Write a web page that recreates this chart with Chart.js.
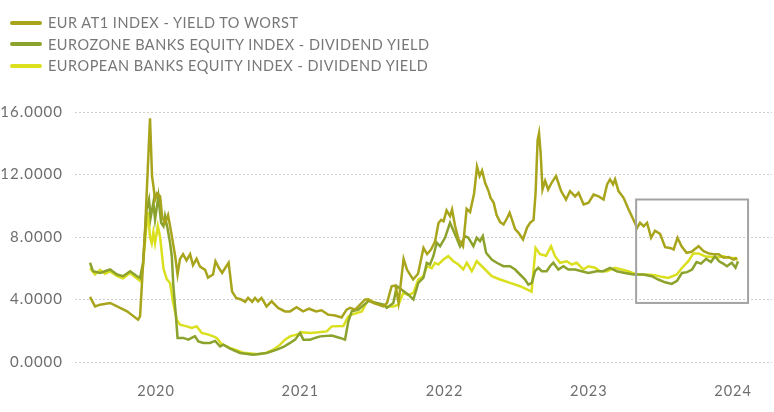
<!DOCTYPE html>
<html lang="en">
<head>
<meta charset="UTF-8">
<script src="https://cdn.jsdelivr.net/npm/chart.js"></script>
<title>Yields</title>
<style>
  body { margin: 0; background: #fff; }
  .wrap { position: relative; width: 774px; height: 412px; }
  canvas { position: absolute; left: 0; top: 0; }
  .legenda { position: absolute; left: 10px; top: 12px; font-family: Lato, sans-serif; font-size: 14.5px; letter-spacing: 0.5px; color: #777; }
  .item { height: 21.6px; display: flex; align-items: center; white-space: nowrap; }
  .swatch { width: 32px; height: 4px; border-radius: 2px; margin-right: 6px; }
</style>
</head>
<body>
<div class="wrap">
  <canvas id="myChart" width="774" height="412"></canvas>
  <div class="legenda" id="legenda"></div>
</div>
<script>
// series names and colours
const seriesNames = [
    'EUR AT1 INDEX - YIELD TO WORST',
    'EUROZONE BANKS EQUITY INDEX - DIVIDEND YIELD',
    'EUROPEAN BANKS EQUITY INDEX - DIVIDEND YIELD'
];
const seriesColors = ['#a8a41c', '#8ba22c', '#dadf1e'];
const yearTicks = [2020, 2021, 2022, 2023, 2024];

// EUR AT1 index - yield to worst
const at1Years = [2019.542, 2019.577, 2019.612, 2019.681, 2019.730, 2019.799, 2019.875, 2019.889, 2019.924, 2019.958,
    2019.972, 2019.981, 2019.993, 2020.007, 2020.028, 2020.042, 2020.062, 2020.083, 2020.097, 2020.114,
    2020.132, 2020.149, 2020.166, 2020.187, 2020.211, 2020.236, 2020.256, 2020.281, 2020.305, 2020.340,
    2020.360, 2020.395, 2020.412, 2020.437, 2020.458, 2020.478, 2020.503, 2020.527, 2020.555, 2020.589,
    2020.617, 2020.638, 2020.666, 2020.686, 2020.707, 2020.731, 2020.766, 2020.801, 2020.846, 2020.894,
    2020.929, 2020.974, 2021.019, 2021.061, 2021.109, 2021.147, 2021.192, 2021.241, 2021.286, 2021.321,
    2021.345, 2021.380, 2021.414, 2021.449, 2021.473, 2021.504, 2021.539, 2021.574, 2021.601, 2021.633,
    2021.660, 2021.681, 2021.716, 2021.740, 2021.782, 2021.816, 2021.854, 2021.879, 2021.906, 2021.934,
    2021.958, 2021.976, 2021.993, 2022.014, 2022.038, 2022.052, 2022.073, 2022.097, 2022.128, 2022.153,
    2022.177, 2022.205, 2022.225, 2022.243, 2022.260, 2022.281, 2022.305, 2022.319, 2022.340, 2022.361,
    2022.385, 2022.409, 2022.433, 2022.451, 2022.468, 2022.489, 2022.513, 2022.544, 2022.572, 2022.593,
    2022.617, 2022.631, 2022.645, 2022.655, 2022.666, 2022.679, 2022.697, 2022.718, 2022.742, 2022.773,
    2022.808, 2022.842, 2022.870, 2022.905, 2022.929, 2022.964, 2022.998, 2023.033, 2023.068, 2023.102,
    2023.127, 2023.147, 2023.168, 2023.182, 2023.206, 2023.241, 2023.276, 2023.303, 2023.335, 2023.355,
    2023.380, 2023.404, 2023.432, 2023.459, 2023.494, 2023.529, 2023.563, 2023.588, 2023.615, 2023.643,
    2023.678, 2023.712, 2023.761, 2023.796, 2023.830, 2023.865, 2023.900, 2023.934, 2023.969, 2024.003,
    2024.028];
const at1Yield = [4.17, 3.56, 3.67, 3.78, 3.56, 3.24, 2.71, 2.92, 8.5, 15.6,
    11.9, 11.3, 10.4, 10.8, 10.6, 9.3, 8.9, 9.4, 8.7, 7.8,
    6.8, 5.6, 6.6, 6.9, 6.5, 6.9, 6.2, 6.6, 6.1, 5.9,
    5.4, 5.6, 6.45, 6.0, 5.7, 6.0, 6.35, 4.5, 4.1, 4.0,
    3.85, 4.1, 3.85, 4.1, 3.88, 4.1, 3.56, 3.88, 3.46, 3.24,
    3.24, 3.5, 3.24, 3.41, 3.24, 3.31, 3.03, 2.97, 2.85, 3.35,
    3.46, 3.35, 3.67, 4.0, 4.0, 3.78, 3.67, 3.56, 3.78, 4.85,
    4.9, 3.8, 6.6, 5.9, 5.28, 5.65, 7.3, 6.9, 7.2, 7.7,
    8.9, 9.1, 9.0, 9.7, 9.33, 9.76, 8.7, 7.84, 7.4, 9.8,
    9.6, 10.8, 12.5, 11.9, 12.25, 11.47, 10.94, 10.5, 10.2, 9.4,
    8.95, 8.8, 9.2, 9.55, 9.1, 8.5, 8.27, 7.84, 8.6, 8.9,
    9.1, 10.8, 14.2, 14.65, 13.4, 11.04, 11.6, 11.04, 11.47, 11.9,
    10.94, 10.4, 10.94, 10.6, 10.83, 10.08, 10.19, 10.72, 10.6, 10.4,
    11.37, 11.69, 11.37, 11.69, 10.94, 10.51, 9.76, 9.23, 8.59, 8.91,
    8.69, 8.91, 7.95, 8.4, 8.2, 7.35, 7.3, 7.2, 7.95, 7.41,
    6.99, 7.05, 7.41, 7.09, 6.95, 6.9, 6.9, 6.67, 6.72, 6.56,
    6.67];

// Eurozone banks equity index - dividend yield
const ezYears = [2019.542, 2019.563, 2019.612, 2019.646, 2019.681, 2019.730, 2019.771, 2019.820, 2019.868, 2019.889,
    2019.910, 2019.934, 2019.951, 2019.962, 2019.981, 2019.993, 2020.016, 2020.035, 2020.051, 2020.062,
    2020.081, 2020.097, 2020.109, 2020.120, 2020.137, 2020.149, 2020.189, 2020.224, 2020.259, 2020.270,
    2020.293, 2020.328, 2020.374, 2020.409, 2020.444, 2020.467, 2020.513, 2020.582, 2020.672, 2020.767,
    2020.837, 2020.883, 2020.929, 2020.964, 2020.998, 2021.021, 2021.068, 2021.102, 2021.137, 2021.218,
    2021.276, 2021.310, 2021.333, 2021.357, 2021.402, 2021.472, 2021.530, 2021.576, 2021.599, 2021.645,
    2021.669, 2021.703, 2021.749, 2021.784, 2021.818, 2021.853, 2021.877, 2021.899, 2021.922, 2021.946,
    2021.969, 2022.003, 2022.038, 2022.073, 2022.107, 2022.142, 2022.165, 2022.200, 2022.223, 2022.246,
    2022.265, 2022.288, 2022.327, 2022.362, 2022.408, 2022.454, 2022.489, 2022.523, 2022.558, 2022.581,
    2022.605, 2022.627, 2022.650, 2022.674, 2022.708, 2022.731, 2022.754, 2022.789, 2022.824, 2022.858,
    2022.905, 2022.951, 2022.997, 2023.055, 2023.101, 2023.147, 2023.194, 2023.251, 2023.309, 2023.378,
    2023.436, 2023.482, 2023.529, 2023.575, 2023.612, 2023.646, 2023.681, 2023.716, 2023.747, 2023.778,
    2023.813, 2023.847, 2023.875, 2023.903, 2023.931, 2023.958, 2023.991, 2024.017, 2024.035];
const ezYield = [6.35, 5.81, 5.7, 5.81, 5.92, 5.6, 5.49, 5.81, 5.49, 5.38,
    6.35, 9.76, 10.4, 9.23, 10.19, 9.12, 10.6, 8.91, 8.69, 9.33,
    8.48, 7.63, 6.77, 4.85, 3.0, 1.54, 1.54, 1.43, 1.6, 1.64,
    1.32, 1.22, 1.22, 1.35, 1.0, 1.11, 0.85, 0.58, 0.47, 0.58,
    0.79, 0.96, 1.22, 1.43, 1.86, 1.43, 1.43, 1.54, 1.64, 1.69,
    1.54, 1.43, 2.6, 3.25, 3.35, 3.9, 3.78, 3.67, 3.46, 3.78,
    4.85, 4.63, 4.31, 4.0, 5.06, 5.38, 6.35, 6.24, 6.77, 7.63,
    7.41, 7.95, 8.91, 8.16, 7.41, 8.05, 7.95, 7.41, 7.95, 7.73,
    8.05, 6.99, 6.56, 6.35, 6.13, 6.13, 5.92, 5.6, 5.28, 4.95,
    5.06, 5.81, 6.03, 5.81, 5.81, 6.13, 6.35, 5.92, 6.13, 5.92,
    5.92, 5.81, 5.7, 5.81, 5.81, 6.03, 5.81, 5.7, 5.6, 5.6,
    5.49, 5.28, 5.1, 5.0, 5.2, 5.7, 5.75, 5.92, 6.4, 6.3,
    6.6, 6.4, 6.77, 6.45, 6.3, 6.13, 6.35, 6.03, 6.45];

// European banks equity index - dividend yield
const euYears = [2019.542, 2019.577, 2019.612, 2019.646, 2019.681, 2019.730, 2019.771, 2019.820, 2019.868, 2019.889,
    2019.910, 2019.931, 2019.945, 2019.958, 2019.970, 2019.981, 2019.993, 2020.012, 2020.028, 2020.051,
    2020.074, 2020.097, 2020.118, 2020.144, 2020.166, 2020.213, 2020.247, 2020.282, 2020.317, 2020.363,
    2020.397, 2020.421, 2020.455, 2020.513, 2020.605, 2020.707, 2020.767, 2020.813, 2020.860, 2020.894,
    2020.929, 2020.975, 2021.010, 2021.068, 2021.125, 2021.183, 2021.218, 2021.298, 2021.333, 2021.357,
    2021.426, 2021.472, 2021.518, 2021.565, 2021.599, 2021.645, 2021.680, 2021.714, 2021.747, 2021.784,
    2021.818, 2021.853, 2021.877, 2021.911, 2021.934, 2021.957, 2021.992, 2022.026, 2022.061, 2022.096,
    2022.130, 2022.154, 2022.189, 2022.223, 2022.246, 2022.281, 2022.327, 2022.385, 2022.454, 2022.523,
    2022.603, 2022.631, 2022.662, 2022.704, 2022.738, 2022.766, 2022.801, 2022.847, 2022.882, 2022.916,
    2022.962, 2022.997, 2023.043, 2023.078, 2023.124, 2023.182, 2023.228, 2023.274, 2023.332, 2023.402,
    2023.459, 2023.506, 2023.551, 2023.610, 2023.644, 2023.690, 2023.725, 2023.760, 2023.806, 2023.852,
    2023.887, 2023.933, 2023.968, 2024.014, 2024.028];
const euYield = [6.0, 5.6, 5.9, 5.65, 5.8, 5.5, 5.35, 5.7, 5.35, 5.2,
    6.2, 8.5, 9.6, 8.0, 7.6, 8.3, 7.6, 8.7, 8.0, 6.0,
    5.3, 5.06, 3.8, 2.7, 2.39, 2.28, 2.18, 2.28, 1.86, 1.75,
    1.64, 1.54, 1.15, 0.9, 0.6, 0.5, 0.6, 0.79, 1.11, 1.43,
    1.64, 1.75, 1.9, 1.86, 1.9, 1.96, 2.28, 2.3, 2.92, 3.03,
    3.24, 4.0, 3.78, 3.67, 3.56, 3.56, 3.67, 4.42, 4.3, 4.42,
    5.28, 5.49, 6.13, 6.0, 6.35, 6.24, 6.56, 6.77, 6.45, 6.24,
    5.92, 6.35, 5.81, 6.45, 6.24, 5.92, 5.49, 5.28, 5.06, 4.85,
    4.5, 7.3, 6.9, 6.8, 7.41, 6.77, 6.35, 6.45, 6.24, 6.35,
    5.92, 6.13, 6.03, 5.81, 5.81, 6.03, 5.92, 5.81, 5.6, 5.6,
    5.55, 5.45, 5.38, 5.6, 6.0, 6.45, 6.95, 6.95, 6.77, 6.72,
    6.67, 6.77, 6.67, 6.65, 6.5];

// caixa de destaque (anos / rendimento)
const boxYears = [2023.328, 2024.104];
const boxYield = [3.78, 10.4];

function pares(xs, ys) {
    return xs.map((x, i) => ({ x: x, y: ys[i] }));
}

const dados = {
    datasets: [
        { label: seriesNames[0], data: pares(at1Years, at1Yield), borderColor: seriesColors[0] },
        { label: seriesNames[1], data: pares(ezYears, ezYield), borderColor: seriesColors[1] },
        { label: seriesNames[2], data: pares(euYears, euYield), borderColor: seriesColors[2] }
    ]
};

// legenda em html
const legenda = document.getElementById('legenda');
seriesNames.forEach((nome, i) => {
    legenda.innerHTML += `<div class="item"><span class="swatch" style="background:${seriesColors[i]}"></span>${nome}</div>`;
});

const caixaPlugin = {
    id: 'caixa',
    beforeDraw(chart) {
        chart.ctx.letterSpacing = '1px';
    },
    afterDatasetsDraw(chart) {
        const { ctx, scales } = chart;
        const x1 = scales.x.getPixelForValue(boxYears[0]);
        const x2 = scales.x.getPixelForValue(boxYears[1]);
        const y1 = scales.y.getPixelForValue(boxYield[1]);
        const y2 = scales.y.getPixelForValue(boxYield[0]);
        ctx.save();
        ctx.strokeStyle = '#a3a3a3';
        ctx.lineWidth = 2;
        ctx.strokeRect(x1, y1, x2 - x1, y2 - y1);
        ctx.restore();
    }
};

const config = {
    type: 'line',
    data: dados,
    options: {
        responsive: false,
        animation: false,
        layout: { padding: { top: 112, right: 2, bottom: 12, left: 0 } },
        elements: {
            point: { radius: 0 },
            line: { borderWidth: 2.5, tension: 0, fill: false }
        },
        plugins: {
            legend: { display: false },
            tooltip: { enabled: false }
        },
        scales: {
            x: {
                type: 'linear',
                min: 2019.438,
                max: 2024.27,
                grid: { display: false, drawTicks: false },
                border: { display: false },
                afterBuildTicks: (scale) => { scale.ticks = yearTicks.map(v => ({ value: v })); },
                afterFit: (scale) => { scale.height = 38; },
                ticks: {
                    padding: 21,
                    color: '#6e6e6e',
                    font: { family: 'Lato', size: 14.5 },
                    maxRotation: 0,
                    callback: (v) => String(Math.round(v))
                }
            },
            y: {
                min: 0,
                max: 16,
                afterFit: (scale) => { scale.width = 75; },
                grid: { color: '#cfcfcf', lineWidth: 1, drawTicks: false },
                border: { display: false, dash: [2, 2] },
                ticks: {
                    stepSize: 4,
                    padding: 12,
                    color: '#6e6e6e',
                    font: { family: 'Lato', size: 15 },
                    callback: (v) => v.toFixed(4)
                }
            }
        }
    },
    plugins: [caixaPlugin]
};

let myChart = new Chart(document.getElementById('myChart'), config);
</script>
</body>
</html>
